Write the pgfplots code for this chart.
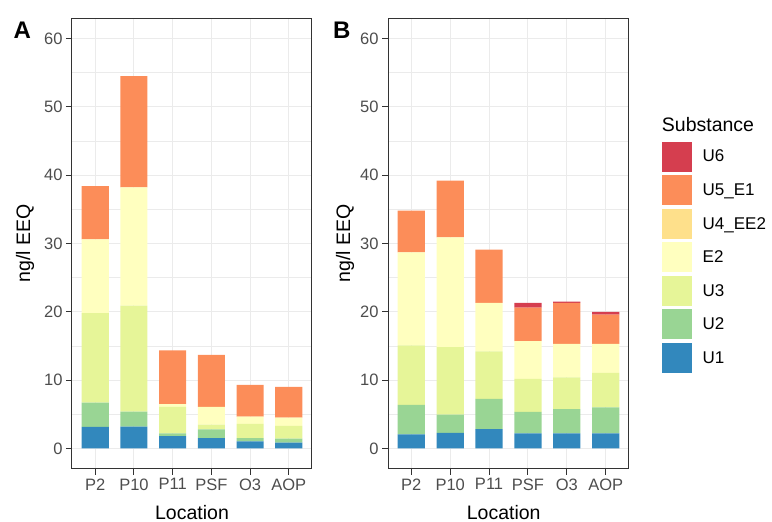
\documentclass[border=0pt]{standalone}
\usepackage{pgfplots}
\pgfplotsset{compat=1.18}
\usepackage{pgfplotstable}
\usepackage{fontspec}
\setmainfont{Liberation Sans}

\definecolor{cU1}{HTML}{3288BD}
\definecolor{cU2}{HTML}{99D594}
\definecolor{cU3}{HTML}{E6F598}
\definecolor{cE2}{HTML}{FFFFBF}
\definecolor{cU4}{HTML}{FEE08B}
\definecolor{cU5}{HTML}{FC8D59}
\definecolor{cU6}{HTML}{D53E4F}
\definecolor{gridc}{HTML}{EBEBEB}
\definecolor{tickc}{HTML}{4D4D4D}

\pgfplotstableread{
x U1 U2 U3 E2 U4 U5 U6
1 3.15 3.55 13.1 10.8 0 7.8 0
2 3.2 2.2 15.5 17.3 0 16.3 0
3 1.8 0.4 3.9 0.4 0 7.85 0
4 1.5 1.3 0.7 2.6 0 7.6 0
5 1.05 0.45 2.1 1.05 0 4.65 0
6 0.87 0.58 1.85 1.2 0 4.5 0
}\dataA

\pgfplotstableread{
x U1 U2 U3 E2 U4 U5 U6
1 2.05 4.35 8.7 13.6 0 6.1 0
2 2.3 2.65 9.9 16.05 0 8.3 0
3 2.85 4.4 6.95 7.1 0 7.8 0
4 2.2 3.15 4.85 5.5 0 4.9 0.7
5 2.2 3.55 4.65 4.9 0 6.0 0.2
6 2.2 3.8 5.05 4.25 0 4.3 0.4
}\dataB

\pgfplotsset{
  panel/.style={
    scale only axis,
    anchor=south west,
    height=451pt,
    ybar stacked,
    bar width=0.7,
    xmin=0.4, xmax=6.6,
    ymin=-3, ymax=63,
    xtick={1,...,6},
    xticklabels={P2,P10,P11,PSF,O3,AOP},
    ytick={0,10,...,60},
    minor ytick={5,15,...,55},
    grid=both,
    major grid style={draw=gridc, line width=1pt},
    minor grid style={draw=gridc, line width=0.5pt},
    axis line style={draw=black!80, line width=1pt},
    tick style={draw=black!80, line width=1pt},
    major tick length=6pt,
    minor tick length=0pt,
    tick align=outside,
    xtick pos=bottom, ytick pos=left,
    /pgf/number format/assume math mode=true,
    tick label style={font=\fontsize{16.5}{18}\selectfont, text=tickc},
    label style={font=\fontsize{19.5}{22}\selectfont, inner sep=0pt},
    xlabel={Location},
    ylabel={ng/l EEQ},
    legend image code/.code={\fill[##1] (0pt,-15pt) rectangle (30pt,15pt);},
  },
}

\begin{document}
\begin{tikzpicture}
\path[use as bounding box] (0,0) rectangle (772pt,522pt);

\begin{axis}[panel, at={(72pt,53pt)}, width=240pt,
  xlabel style={at={(axis description cs:0.5,-0.111)}, anchor=base},
  ylabel style={at={(axis description cs:-0.196,0.5)}, anchor=center},
]
\addplot[fill=cU1, draw=none] table[x=x, y=U1] {\dataA};
\addplot[fill=cU2, draw=none] table[x=x, y=U2] {\dataA};
\addplot[fill=cU3, draw=none] table[x=x, y=U3] {\dataA};
\addplot[fill=cE2, draw=none] table[x=x, y=E2] {\dataA};
\addplot[fill=cU4, draw=none] table[x=x, y=U4] {\dataA};
\addplot[fill=cU5, draw=none] table[x=x, y=U5] {\dataA};
\addplot[fill=cU6, draw=none] table[x=x, y=U6] {\dataA};
\end{axis}

\begin{axis}[panel, at={(388pt,53pt)}, width=241pt,
  xlabel style={at={(axis description cs:0.48,-0.111)}, anchor=base},
  ylabel style={at={(axis description cs:-0.178,0.5)}, anchor=center},
  reverse legend,
  legend style={at={(1.1357,0.7257)}, anchor=north west, draw=none, fill=none,
    inner sep=0pt, outer sep=0pt, row sep=3.55pt, column sep=11pt,
    nodes={inner sep=0pt, font=\fontsize{17}{19}\selectfont},
    cells={anchor=west}},
]
\addplot[fill=cU1, draw=none] table[x=x, y=U1] {\dataB};
\addlegendentry{U1}
\addplot[fill=cU2, draw=none] table[x=x, y=U2] {\dataB};
\addlegendentry{U2}
\addplot[fill=cU3, draw=none] table[x=x, y=U3] {\dataB};
\addlegendentry{U3}
\addplot[fill=cE2, draw=none] table[x=x, y=E2] {\dataB};
\addlegendentry{E2}
\addplot[fill=cU4, draw=none] table[x=x, y=U4] {\dataB};
\addlegendentry{U4\_EE2}
\addplot[fill=cU5, draw=none] table[x=x, y=U5] {\dataB};
\addlegendentry{U5\_E1}
\addplot[fill=cU6, draw=none] table[x=x, y=U6] {\dataB};
\addlegendentry{U6}
\end{axis}

\node[anchor=base west, font=\fontsize{19.5}{22}\selectfont, inner sep=0pt] at (661.7pt,390.3pt) {Substance};
\node[anchor=base, font=\bfseries\fontsize{24}{24}\selectfont, inner sep=0pt] at (22.3pt,483.7pt) {A};
\node[anchor=base, font=\bfseries\fontsize{24}{24}\selectfont, inner sep=0pt] at (341.7pt,483.7pt) {B};
\end{tikzpicture}
\end{document}
